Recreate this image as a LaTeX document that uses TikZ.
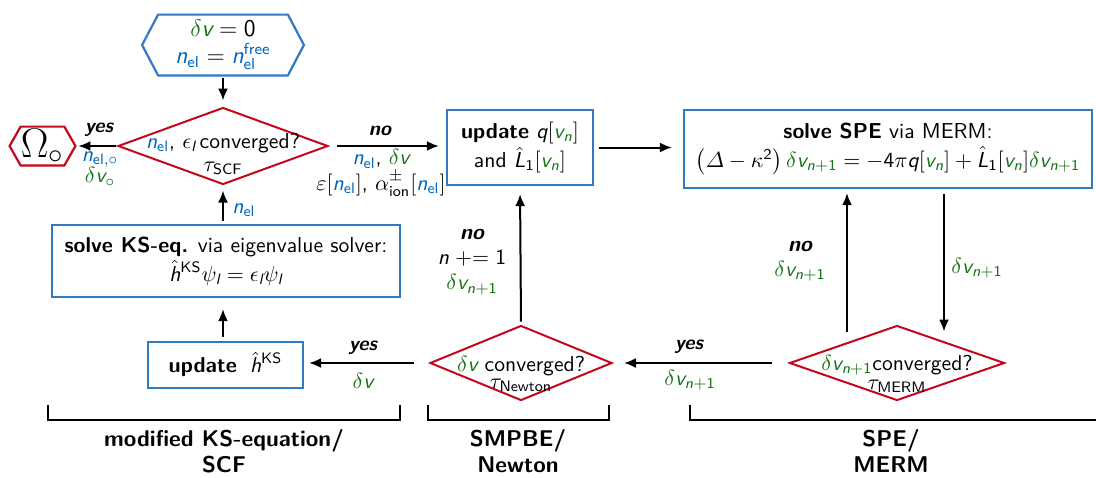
\documentclass[tikz,border=0pt]{standalone}
\usepackage{amsmath}
\usepackage{fontspec}
\usetikzlibrary{arrows.meta,shapes.geometric,calc}
\definecolor{cblue}{RGB}{0,101,189}
\definecolor{bblue}{RGB}{48,122,196}
\definecolor{cgreen}{RGB}{20,115,20}
\definecolor{cred}{RGB}{196,7,27}
\newcommand\mi[1]{\text{\sffamily\mdseries\itshape #1}}
\newcommand\mr[1]{\text{\sffamily\mdseries\upshape #1}}
\newcommand\nel{\textcolor{cblue}{\mi{n}_{\mr{el}}}}
\newcommand\dv{\textcolor{cgreen}{\delta\mi{v}}}
\newcommand\dvn{\textcolor{cgreen}{\delta\mi{v}_{\mi{n}+\mr{1}}}}
\newcommand\vn{\textcolor{cgreen}{\mi{v}_{\mi{n}}}}
\newcommand\hh{\mathord{\smash{\hat{\mi{h}}}\vphantom{\mi{h}}}}
\newcommand\hL{\mathord{\smash{\hat{\mi{L}}}\vphantom{\mi{L}}}}
\tikzset{
  box/.style={draw=bblue, line width=1.1pt, align=center, inner sep=0pt},
  dia/.style={diamond, draw=cred, line width=1pt, inner sep=0pt},
  hexpath/.style={line width=1.1pt},
  arr/.style={-{Latex[length=6pt,width=5pt]}, line width=1pt},
  lab/.style={font=\sffamily\bfseries\itshape},
  txt/.style={align=center, inner sep=0pt},
  brk/.style={line width=1pt},
  grp/.style={align=center, font=\sffamily\bfseries\fontsize{11.4}{13}\selectfont, inner sep=0pt, anchor=north},
}
\begin{document}
\begin{tikzpicture}[x=0.5pt,y=-0.5pt, font=\sffamily\fontsize{10.8}{12.6}\selectfont]
\useasboundingbox (0,0) rectangle (1096,477);
% start hexagon
\node[txt, minimum width=80.5pt, minimum height=30pt, font=\sffamily\fontsize{12}{13.5}\selectfont] (start) at (223,45)
  {$\dv=\mr{0}$\\ $\nel=\textcolor{cblue}{\mi{n}_{\mr{el}}^{\mr{free}}}$};
\draw[hexpath, draw=bblue] (start.west) -- ([xshift=8pt]start.north west) -- ([xshift=-8pt]start.north east)
  -- (start.east) -- ([xshift=-8pt]start.south east) -- ([xshift=8pt]start.south west) -- cycle;
% SCF diamond
\node[dia, minimum width=105pt, minimum height=38.5pt] (scf) at (223,146) {};
\node[txt] (scft) at (223,154) {$\nel$, $\epsilon_{\mi{l}}$\,converged?\\[-1pt] $\tau_{\mr{SCF}}$};
% Omega hexagon
\node[txt, minimum width=32.5pt, minimum height=19pt] (omega) at (42.5,146) {\huge$\Omega_\circ$};
\draw[hexpath, draw=cred] (omega.west) -- ([xshift=5.5pt]omega.north west) -- ([xshift=-5.5pt]omega.north east)
  -- (omega.east) -- ([xshift=-5.5pt]omega.south east) -- ([xshift=5.5pt]omega.south west) -- cycle;
% update box
\node[box, minimum width=73pt, minimum height=37.5pt] (upd) at (520,147.5)
  {{\bfseries update} $\mi{q}[\vn]$\\[2pt] and $\hL_{\mr{1}}[\vn]$};
% SPE box
\node[box, minimum width=204pt, minimum height=39pt] (spe) at (888,149)
  {{\bfseries solve SPE} via MERM:\\[2pt]
   $\left(\varDelta-\kappa^{\mr{2}}\right)\dvn=-\mr{4}\pi\mi{q}[\vn]+\hL_{\mr{1}}[\vn]\dvn$};
% MERM diamond
\node[dia, minimum width=107.5pt, minimum height=37.5pt] (merm) at (897,363) {};
\node[txt] (mermt) at (897,374) {$\dvn$converged?\\[-3pt] $\tau_{\mr{MERM}}$};
% Newton diamond
\node[dia, minimum width=91pt, minimum height=37.5pt] (newton) at (521,363) {};
\node[txt] (newtont) at (521,374) {$\dv$ converged?\\[-4pt] $\tau_{\mr{Newton}}$};
% update h box
\node[box, minimum width=77.5pt, minimum height=23pt] (hks) at (225.5,365)
  {{\bfseries update}\; $\hh^{\mr{KS}}$};
% KS box
\node[box, minimum width=174pt, minimum height=36pt] (ks) at (226,261)
  {{\bfseries solve KS-eq.} via eigenvalue solver:\\[2pt]
   $\hh^{\mr{KS}}\psi_{\mi{l}}=\epsilon_{\mi{l}}\psi_{\mi{l}}$};

% connectors
\draw[arr, shorten <=1.5pt, shorten >=3pt] (start.south) -- (scf.north);
\draw[arr, shorten <=0.5pt, shorten >=1.5pt] (scf.west) -- (omega.east);
\draw[arr, shorten <=4pt, shorten >=3.5pt] (scf.east) -- (scf.east -| upd.west);
\draw[arr, shorten <=2.5pt, shorten >=5.5pt] (upd.east) -- (upd.east -| spe.west);
\draw[arr, shorten <=2.5pt, shorten >=0pt] ([xshift=28pt]spe.south) -- ($([xshift=28pt]spe.south |- merm.north)+(0,7)$);
\draw[arr, shorten >=2pt] ([xshift=-25pt,yshift=-3.5pt]merm.north) -- ([xshift=-25pt]merm.north |- spe.south);
\draw[arr, shorten <=8.5pt, shorten >=5.5pt] (merm.west) -- (newton.east);
\draw[arr, shorten <=1.5pt, shorten >=4pt] (newton.north) -- (upd.south);
\draw[arr, shorten <=7.5pt, shorten >=2.5pt] (newton.west) -- (newton.west -| hks.east);
\draw[arr, shorten <=2pt, shorten >=5.5pt] (hks.north -| start.south) -- (ks.south -| start.south);
\draw[arr, shorten <=1.5pt, shorten >=2.5pt] (ks.north -| start.south) -- (scf.south);

% labels
\node[lab] (l1) at (99,130) {yes};
\node[txt] (l1b) at (100,169) {$\textcolor{cblue}{\mi{n}_{\mr{el},\circ}}$\\[-2pt] $\textcolor{cgreen}{\delta\mi{v}_\circ}$};
\node[lab] (l2) at (380,131) {no};
\node[txt] (l2b) at (381,173) {$\nel$, $\dv$\\[0pt] $\varepsilon[\nel]$, $\alpha^{\pm}_{\mr{ion}}[\nel]$};
\node[txt, anchor=west] (l3) at (232,210) {$\nel$};
\node[txt] (l4) at (472,262) {{\bfseries\itshape no}\\ $\mi{n}\mathrel{+{=}}\mr{1}$\\ $\dvn$};
\node[txt] (l5) at (977,268) {$\dvn$};
\node[txt] (l6) at (800,261) {{\bfseries\itshape no}\\ $\dvn$};
\node[lab] (l7) at (689,347) {yes};
\node[txt] (l7b) at (690,380) {$\dvn$};
\node[lab] (l8) at (363,348) {yes};
\node[txt] (l8b) at (363,381) {$\dv$};

% brackets
\draw[brk] (48,405) |- (400,420) -- (400,405);
\draw[brk] (428,405) |- (609,420) -- (609,405);
\draw[brk] (690,405) |- (1096,420);
\node[grp] (g1) at (224,429) {modified KS-equation/\\ SCF};
\node[grp] (g2) at (518,429) {SMPBE/\\ Newton};
\node[grp] (g3) at (891,429) {SPE/\\ MERM};
\end{tikzpicture}
\end{document}
